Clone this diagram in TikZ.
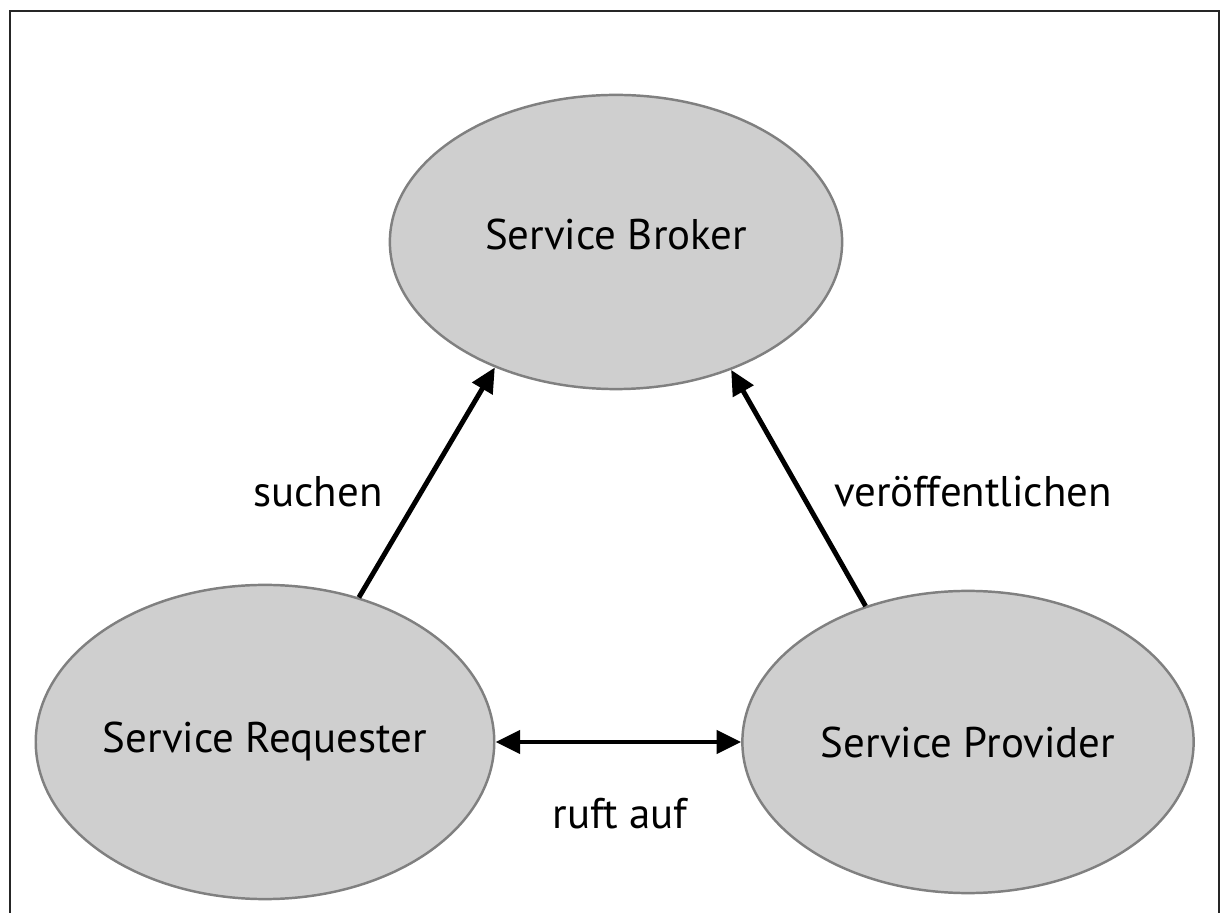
\documentclass[tikz,border=0pt]{standalone}
\usepackage{fontspec}
\setmainfont{PT Sans}
\usetikzlibrary{shapes.geometric,arrows.meta}

\tikzset{
  role/.style={ellipse,draw=black!50,line width=0.7pt,fill=black!19,inner sep=0pt,font=\fontsize{12.2}{14}\selectfont},
  flow/.style={line width=1.4pt,-{Triangle[length=7pt,width=6.5pt]}},
  lbl/.style={font=\fontsize{12.2}{14}\selectfont}
}

\begin{document}
\begin{tikzpicture}[x=0.01cm,y=-0.01cm]
        \useasboundingbox (0,0) rectangle (1221,913);
        % open frame, bottom edge cut off
        \draw[line width=0.8pt,black!85] (10,930)--(10,11)--(1219,11)--(1219,930);
        \node[role,minimum width=4.52cm,minimum height=2.94cm] (broker) at (616,242) {\raisebox{0.15cm}{Service Broker}};
        \node[role,minimum width=4.50cm,minimum height=3.14cm] (req) at (265,742) {Service Requester};
        \node[role,minimum width=4.51cm,minimum height=3.02cm] (prov) at (968,742) {Service Provider};
        \draw[flow] (req.57) -- (broker.-134);
        \draw[flow] (prov.127) -- (broker.-48);
        \draw[flow,{Triangle[length=7pt,width=6.5pt]}-{Triangle[length=7pt,width=6.5pt]}] (req.east) -- (prov.west);
        \node[lbl] (search) at (318,492) {suchen};
        \node[lbl] (publish) at (973,492) {veröffentlichen};
        \node[lbl] (call) at (620,814) {ruft auf};
    \end{tikzpicture}
\end{document}
